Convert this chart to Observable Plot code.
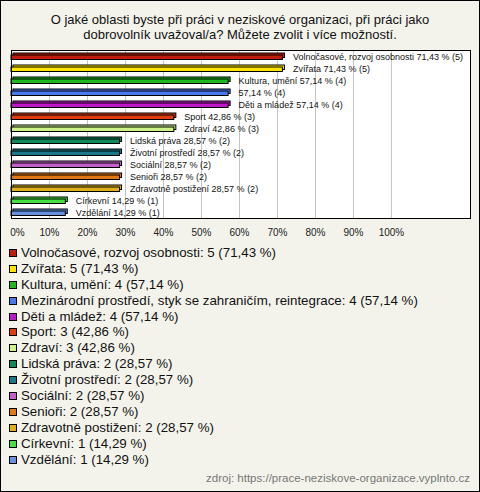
<!DOCTYPE html>
<html>
<head>
<meta charset="utf-8">
<script src="https://cdn.jsdelivr.net/npm/d3@7"></script>
<script src="https://cdn.jsdelivr.net/npm/@observablehq/plot@0.6"></script>
<style>
  html, body { margin: 0; padding: 0; background: #fff; }
  #wrap { position: relative; width: 480px; height: 492px; background: #f3f3eb; outline: 1px solid #000; outline-offset: -1px; overflow: hidden; font-family: "Liberation Sans", Arial, sans-serif; }
  #title { position: absolute; left: 0; top: 12px; width: 480px; text-align: center; font-size: 13px; line-height: 15px; color: #111; }
  #chart { position: absolute; left: 0; top: 42px; }
  #legend { position: absolute; left: 9px; top: 245px; font-size: 13.3px; color: #111; }
  .item { height: 15.9px; line-height: 15.9px; white-space: nowrap; display: flex; align-items: center; }
  .sw { width: 6px; height: 6px; border: 1px solid #000; margin-right: 4px; flex: none; }
  #source { position: absolute; right: 10px; top: 472px; font-size: 11.5px; color: #777; }
</style>
</head>
<body>
<div id="wrap">
  <div id="title">O jaké oblasti byste při práci v neziskové organizaci, při práci jako<br>dobrovolník uvažoval/a? Můžete zvolit i více možností.</div>
  <div id="chart"></div>
  <div id="legend"></div>
  <div id="source">zdroj: https://prace-neziskove-organizace.vyplnto.cz</div>
</div>
<script>
const categories = [
  "Volnočasové, rozvoj osobnosti",
  "Zvířata",
  "Kultura, umění",
  "Mezinárodní prostředí, styk se zahraničím, reintegrace",
  "Děti a mládež",
  "Sport",
  "Zdraví",
  "Lidská práva",
  "Životní prostředí",
  "Sociální",
  "Senioři",
  "Zdravotně postižení",
  "Církevní",
  "Vzdělání"
];
const barNames = [
  "Volnočasové, rozvoj osobnosti", "Zvířata", "Kultura, umění", "", "Děti a mládež",
  "Sport", "Zdraví", "Lidská práva", "Životní prostředí", "Sociální", "Senioři",
  "Zdravotně postižení", "Církevní", "Vzdělání"
];
const counts = [5, 5, 4, 4, 4, 3, 3, 2, 2, 2, 2, 2, 1, 1];
const percents = [71.43, 71.43, 57.14, 57.14, 57.14, 42.86, 42.86, 28.57, 28.57, 28.57, 28.57, 28.57, 14.29, 14.29];
const colors = ["#c01c0c", "#ffe600", "#20b820", "#4a78f0", "#c018c8", "#e03c10", "#ccf288", "#12875a", "#1a7888", "#c060c8", "#e07814", "#e0b018", "#44e044", "#6690e0"];
const tickValues = [0, 10, 20, 30, 40, 50, 60, 70, 80, 90, 100];

const fmt = v => v.toFixed(2).replace(".", ",");
const rows = categories.map((c, i) => ({
  name: c,
  value: percents[i],
  color: colors[i],
  label: (barNames[i] ? barNames[i] + " " : "") + fmt(percents[i]) + " % (" + counts[i] + ")",
  legend: c + ": " + counts[i] + " (" + fmt(percents[i]) + " %)"
}));

const plot = Plot.plot({
  width: 480,
  height: 200,
  marginLeft: 11,
  marginRight: 10,
  marginTop: 8,
  marginBottom: 24,
  style: { background: "transparent", fontFamily: "Liberation Sans, Arial, sans-serif" },
  x: { domain: [0, 120.8], axis: null, label: null },
  y: { domain: categories, axis: null, label: null, paddingInner: 0, paddingOuter: 0 },
  color: { type: "identity" },
  marks: [
    Plot.frame({ fill: "#fff", stroke: "none" }),
    Plot.gridX(tickValues, { stroke: "#c4c4c4", strokeOpacity: 1, strokeWidth: 1 }),
    Plot.barX(rows, { y: "name", x: "value", fill: "color", stroke: "#000", strokeWidth: 1, insetTop: 5, insetBottom: 2.5, dx: 2, dy: -2 }),
    Plot.barX(rows, { y: "name", x: "value", fill: "color", stroke: "#000", strokeWidth: 1, insetTop: 5, insetBottom: 2.5 }),
    Plot.text(rows, { y: "name", x: "value", text: "label", textAnchor: "start", dx: 10, dy: 1, fontSize: 9, fill: "#111" }),
    Plot.frame({ stroke: "#000", strokeWidth: 1 }),
    Plot.axisX(tickValues.slice(0, 1), { tickSize: 0, tickPadding: 10, fontSize: 10, tickFormat: d => d + "%", fill: "#222", label: null, dx: 6 }),
    Plot.axisX(tickValues.slice(1), { tickSize: 0, tickPadding: 10, fontSize: 10, tickFormat: d => d + "%", fill: "#222", label: null })
  ]
});
document.getElementById("chart").appendChild(plot);

const legend = document.getElementById("legend");
rows.forEach(r => {
  const div = document.createElement("div");
  div.className = "item";
  const sw = document.createElement("span");
  sw.className = "sw";
  sw.style.background = r.color;
  div.appendChild(sw);
  div.appendChild(document.createTextNode(r.legend));
  legend.appendChild(div);
});
</script>
</body>
</html>
